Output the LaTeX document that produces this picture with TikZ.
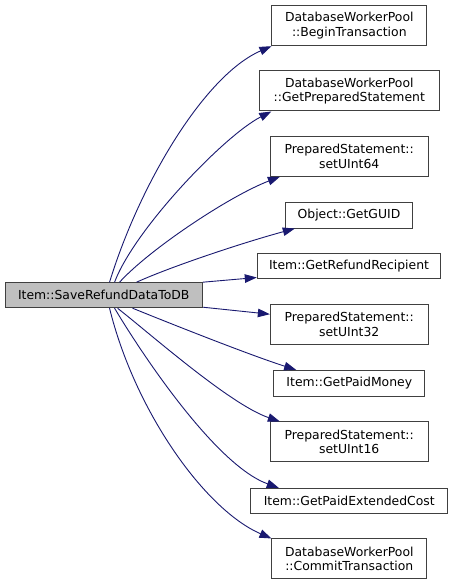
\documentclass[tikz,border=0pt]{standalone}
\usepackage{fontspec}
\setmainfont{DejaVu Sans}
\usetikzlibrary{arrows.meta,calc}
\definecolor{edgecol}{HTML}{191970}
\definecolor{boxline}{HTML}{404040}
\definecolor{mainfill}{HTML}{BFBFBF}
\tikzset{
  fn/.style={draw=boxline, line width=1pt, fill=white, rectangle, inner sep=0pt,
    align=center, font=\fontsize{12.4}{14.7}\selectfont},
  mainfn/.style={fn, fill=mainfill},
  call/.style={draw=edgecol, line width=0.9pt, -{Triangle[length=12pt,width=8.5pt]}, fill=none}
}
\begin{document}
\begin{tikzpicture}[x=1pt,y=-1pt]
\useasboundingbox (0,0) rectangle (453,585);
\fill[white] (0,0) rectangle (453,585);
\node[mainfn, minimum width=197.3pt, minimum height=25pt] (main) at (103.7,295.2) {Item::SaveRefundDataToDB};
\node[fn, minimum width=154.7pt, minimum height=40pt] (bt) at (349.3,25.7) {DatabaseWorkerPool\\::BeginTransaction};
\node[fn, minimum width=180pt, minimum height=40pt] (gps) at (349.3,91) {DatabaseWorkerPool\\::GetPreparedStatement};
\node[fn, minimum width=157.7pt, minimum height=39.6pt] (u64) at (349.2,156.5) {PreparedStatement::\\setUInt64};
\node[fn, minimum width=127.4pt, minimum height=25.7pt] (guid) at (349,215.2) {Object::GetGUID};
\node[fn, minimum width=183.4pt, minimum height=25pt] (grr) at (349,265.8) {Item::GetRefundRecipient};
\node[fn, minimum width=157.7pt, minimum height=39.6pt] (u32) at (349.2,324.5) {PreparedStatement::\\setUInt32};
\node[fn, minimum width=151.3pt, minimum height=25.7pt] (gpm) at (349.3,383.2) {Item::GetPaidMoney};
\node[fn, minimum width=157.7pt, minimum height=39.7pt] (u16) at (349.2,441.8) {PreparedStatement::\\setUInt16};
\node[fn, minimum width=197.3pt, minimum height=24.7pt] (gpec) at (349.3,500.7) {Item::GetPaidExtendedCost};
\node[fn, minimum width=154.7pt, minimum height=39.7pt] (ct) at (349.3,558.8) {DatabaseWorkerPool\\::CommitTransaction};

\draw[call] ($(main.north west)+(105,0)$) .. controls +(30,-98) and +(-67,29) .. (bt.south west);
\draw[call] ($(main.north west)+(110,0)$) .. controls +(20,-53) and +(-47,24) .. ($(gps.south west)+(12.5,0)$);
\draw[call] ($(main.north west)+(115,0)$) .. controls +(30,-33) and +(-50,19) .. ($(u64.south west)+(10,0)$);
\draw[call] ($(main.north west)+(132,0)$) .. controls +(33,-15) and +(-55,15) .. ($(guid.south west)+(10,0)$);
\draw[call] (main.north east) -- ($(grr.south west)+(0,-1.3)$);
\draw[call] ($(main.south east)+(0,-1)$) -- ($(u32.north west)+(0,10)$);
\draw[call] ($(main.south west)+(128,0)$) .. controls +(37,15) and +(-47,-15) .. ($(gpm.north west)+(23,0)$);
\draw[call] ($(main.south west)+(113,0)$) .. controls +(32,25) and +(-50,-17) .. ($(u16.north west)+(10,0)$);
\draw[call] ($(main.south west)+(110,0)$) .. controls +(25,42) and +(-64,-23) .. ($(gpec.north west)+(28.6,0)$);
\draw[call] ($(main.south west)+(105,0)$) .. controls +(25,102) and +(-67,-29) .. (ct.north west);
\end{tikzpicture}
\end{document}
